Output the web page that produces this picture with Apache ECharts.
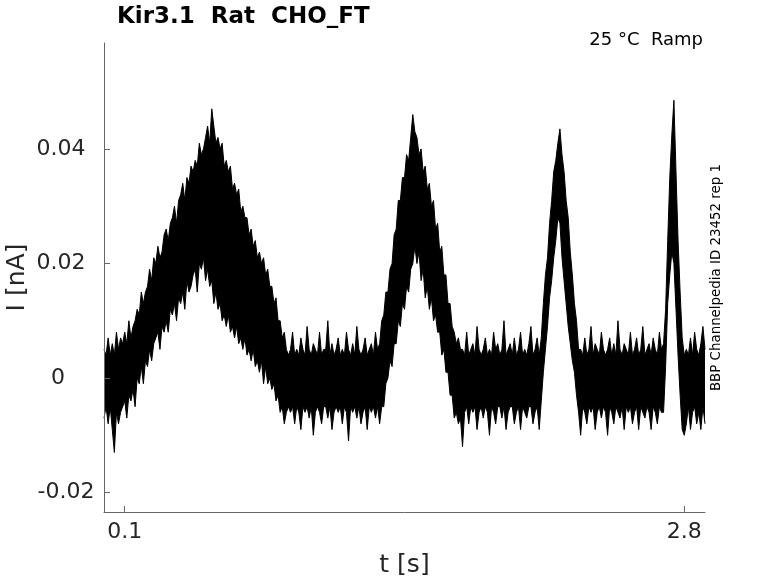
<!DOCTYPE html>
<html>
<head>
<meta charset="utf-8">
<script src="https://cdn.jsdelivr.net/npm/echarts@6/dist/echarts.min.js"></script>
<style>html,body{margin:0;padding:0;background:#fff}#c{width:778px;height:583px}</style>
</head>
<body>
<div id="c"></div>
<script>
const titleText = 'Kir3.1  Rat  CHO_FT';
const conditionText = '25 °C  Ramp';
const sourceText = 'BBP Channelpedia ID 23452 rep 1';
const xTicks = [0.1, 2.8];
const yTicks = [-0.02, 0, 0.02, 0.04];
// sampling grid of the trace (s)
const tStart = 0;
const tStep = 0.01;
// upper edge of the recorded traces (pA), one value per sample
const upperPA = [
  5,4,7,4,6,4,8,
  5,7,6,8,6,10,7,9,10,12,11,15,13,15,16,19,17,21,20,23,21,22,25,26,24,27,28,30,27,31,32,34,31,35,34,37,36,38,37,41,39,40,42,44,41,47,
  44,41,42,40,41,37,38,36,37,33,34,32,33,29,30,28,28,25,26,23,24,21,22,20,21,18,19,16,16,13,14,10,10,7,8,5,
  4,5,8,4,5,4,7,5,4,9,5,4,6,5,4,8,4,5,5,10,4,6,4,5,7,4,5,4,8,5,4,6,4,9,5,4,5,7,4,5,6,4,8,5,
  6,10,11,15,15,19,20,25,26,31,31,35,35,39,38,42,46,43,42,39,40,36,37,33,34,30,31,26,27,22,23,18,18,13,13,9,8,6,7,5,
  5,4,8,4,5,6,4,9,5,4,5,7,4,5,4,8,5,6,4,5,10,4,5,6,4,7,4,5,8,4,5,4,6,9,4,5,7,4,
  7,13,18,21,27,31,36,38,41,43.5,39,36,31,28,22,18,13,10,5,
  5,4,7,4,5,9,4,6,5,4,8,5,4,5,7,4,6,4,10,5,4,6,5,4,8,4,5,7,4,5,9,4,5,6,4,7,5,4,8,5,
  6,12,24,35,42.5,48.5,36,24,15,7,4,
  5,4,7,4,8,5,4,6,9,5
];
// lower edge of the recorded traces (pA)
const lowerPA = [
  -7,-5,-8,-5,-9,-13,-6,
  -8,-6,-5,-4,-7,-3,-4,-2,-5,0,-1,2,-1,3,2,5,3,6,7,8,5,9,8,10,8,12,11,13,10,14,13,15,12,17,15,16,18,19,15,20,19,21,17,19,16,17,
  13,15,12,13,10,11,9,11,8,9,7,9,6,7,5,7,4,5,3,5,2,3,1,3,-1,2,-1,0,-2,-1,-4,-3,-6,-5,-8,-6,
  -5,-6,-5,-8,-5,-6,-9,-5,-6,-5,-7,-5,-10,-6,-5,-6,-8,-5,-5,-7,-5,-9,-6,-5,-6,-5,-8,-5,-6,-11,-5,-6,-5,-7,-5,-8,-6,-5,-9,-5,-6,-5,-7,-5,
  -8,-5,-5,-1,0,3,2,6,6,10,9,13,12,16,15,19,20,23,20,22,17,19,14,16,12,14,10,11,8,8,4,5,1,1,-3,-3,-7,-6,-8,-7,
  -12,-6,-5,-8,-5,-6,-5,-9,-6,-5,-7,-5,-6,-10,-5,-6,-8,-5,-5,-7,-5,-9,-6,-5,-5,-8,-6,-5,-9,-5,-6,-7,-5,-5,-8,-6,-5,-9,
  -4,1,5,9,14,17,21,24,28,27,21,17,13,9,6,3,1,-3,-6,
  -10,-5,-6,-8,-5,-6,-5,-9,-6,-5,-7,-5,-6,-10,-5,-6,-8,-5,-6,-7,-5,-9,-5,-6,-5,-8,-6,-5,-9,-5,-6,-7,-5,-6,-9,-5,-6,-8,-5,-6,
  -6,2,13,18,22,20,12,4,-3,-9,-10,
  -8,-5,-9,-6,-5,-8,-6,-9,-5,-8
];

const FONT = 'DejaVu Sans';
const TXT = '#262626';
const AX = '#666666';
const n = Math.min(upperPA.length, lowerPA.length);
const lowerData = [], upperData = [];
for (let i = 0; i < n; i++) {
  const t = +(tStart + i * tStep).toFixed(3);
  lowerData.push([t, lowerPA[i] / 1000]);
  upperData.push([t, upperPA[i] / 1000]);
}

const chart = echarts.init(document.getElementById('c'));
chart.setOption({
  animation: false,
  backgroundColor: '#fff',
  grid: { left: 104, right: 73, top: 43, bottom: 71, containLabel: false, outerBoundsMode: 'none' },
  xAxis: {
    type: 'value', min: 0, max: 2.9, z: 10,
    axisLine: { show: true, onZero: false, lineStyle: { color: AX, width: 1 } },
    axisTick: { show: true, inside: true, length: 6, customValues: xTicks, lineStyle: { color: AX } },
    axisLabel: { customValues: xTicks, fontSize: 22, fontFamily: FONT, color: TXT, margin: 9 },
    splitLine: { show: false },
    name: 't [s]', nameLocation: 'middle', nameGap: 41, nameMoveOverlap: false,
    nameTextStyle: { fontSize: 25, fontFamily: FONT, color: TXT }
  },
  yAxis: {
    type: 'value', min: -0.0234, max: 0.0585, z: 10,
    axisLine: { show: true, onZero: false, lineStyle: { color: AX, width: 1 } },
    axisTick: { show: true, inside: true, length: 6, customValues: yTicks, lineStyle: { color: AX } },
    axisLabel: {
      customValues: yTicks, fontSize: 22, fontFamily: FONT, color: TXT, margin: 43, align: 'center',
      formatter: function (v) {
        if (Math.abs(v) < 1e-9) return '{z|0}';
        if (v < 0) return '{m|' + v.toFixed(2) + '}';
        return '{p|' + v.toFixed(2) + '}';
      },
      rich: {
        z: { fontSize: 22, fontFamily: FONT, color: TXT, padding: [0, 6, 0, 0] },
        m: { fontSize: 22, fontFamily: FONT, color: TXT, padding: [0, 0, 0, 10] },
        p: { fontSize: 22, fontFamily: FONT, color: TXT }
      }
    },
    splitLine: { show: false },
    name: 'I [nA]', nameLocation: 'middle', nameGap: 74, nameRotate: 90, nameMoveOverlap: false,
    nameTextStyle: { fontSize: 25, fontFamily: FONT, color: TXT }
  },
  series: [
    {
      type: 'line', name: 'upper', data: upperData,
      showSymbol: false, symbol: 'none', lineStyle: { color: '#000', width: 1 },
      areaStyle: { color: '#000', opacity: 1, origin: 'start' }, silent: true, z: 2
    },
    {
      type: 'line', name: 'lower', data: lowerData,
      showSymbol: false, symbol: 'none', lineStyle: { color: '#000', width: 1 },
      areaStyle: { color: '#fff', opacity: 1, origin: 'start' }, silent: true, z: 3
    }
  ],
  graphic: [
    { type: 'text', z: 100, x: 117, y: 17.5, style: { text: titleText, fontSize: 23, fontWeight: 'bold', fontFamily: FONT, fill: '#000', align: 'left', verticalAlign: 'middle' } },
    { type: 'text', z: 100, x: 703, y: 40, style: { text: conditionText, fontSize: 18, fontFamily: FONT, fill: '#000', align: 'right', verticalAlign: 'middle' } },
    { type: 'text', z: 100, x: 716.7, y: 277.5, rotation: Math.PI / 2, style: { text: sourceText, fontSize: 13.4, fontFamily: FONT, fill: '#000', align: 'center', verticalAlign: 'middle' } }
  ]
});
</script>
</body>
</html>
